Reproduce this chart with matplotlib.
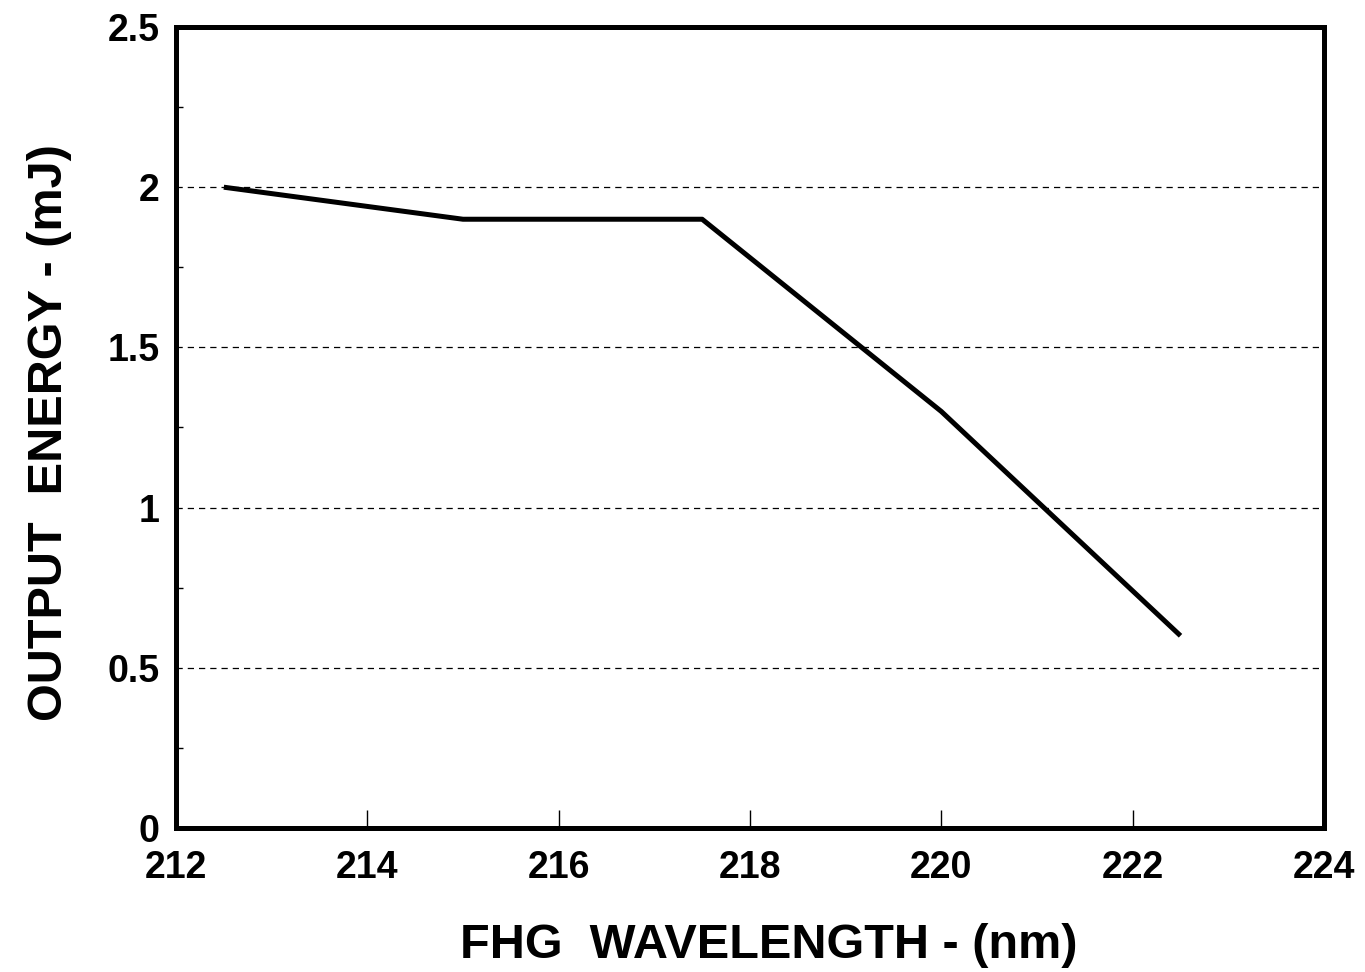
import matplotlib
matplotlib.use("Agg")
import matplotlib.pyplot as plt
from matplotlib.ticker import MultipleLocator

plt.rcParams['font.family'] = ['Liberation Sans', 'DejaVu Sans']
plt.rcParams['font.weight'] = 'bold'

wavelength = [212.5, 215.0, 217.5, 220.0, 222.5]
energy = [2.0, 1.9, 1.9, 1.3, 0.6]
x_ticks = [212, 214, 216, 218, 220, 222, 224]
y_ticks = [0, 0.5, 1, 1.5, 2, 2.5]
y_tick_labels = ['0', '0.5', '1', '1.5', '2', '2.5']
grid_levels = [0.5, 1.0, 1.5, 2.0]

fig = plt.figure(figsize=(13.65, 9.72), dpi=100)
ax = fig.add_axes([176 / 1365, 1 - 828 / 972, 1148 / 1365, 801 / 972])

for g in grid_levels:
    ax.axhline(g, color='black', lw=0.9, ls=(0, (5, 4)), zorder=1)

ax.plot(wavelength, energy, color='black', lw=3.6, solid_capstyle='butt', zorder=3)

ax.set_xlim(212, 224)
ax.set_ylim(0, 2.5)
ax.set_xticks(x_ticks)
ax.set_xticklabels([str(t) for t in x_ticks])
ax.set_yticks(y_ticks)
ax.set_yticklabels(y_tick_labels)
ax.yaxis.set_minor_locator(MultipleLocator(0.25))

ax.tick_params(axis='x', direction='in', length=13, width=1, pad=15.5,
               labelsize=27, top=False)
ax.tick_params(axis='y', which='major', direction='in', length=0, pad=12,
               labelsize=27, right=False)
ax.tick_params(axis='y', which='minor', direction='in', length=5, width=1,
               right=False)
ax.tick_params(axis='x', which='minor', bottom=False)

for s in ax.spines.values():
    s.set_linewidth(3.6)

ax.set_xlabel('FHG  WAVELENGTH - (nm)', fontsize=35, fontweight='bold')
ax.set_ylabel('OUTPUT  ENERGY - (mJ)', fontsize=35, fontweight='bold')
ax.xaxis.set_label_coords(0.516, -0.119)
ax.yaxis.set_label_coords(-0.0906, 0.494)

fig.savefig('out.png', dpi=100)
